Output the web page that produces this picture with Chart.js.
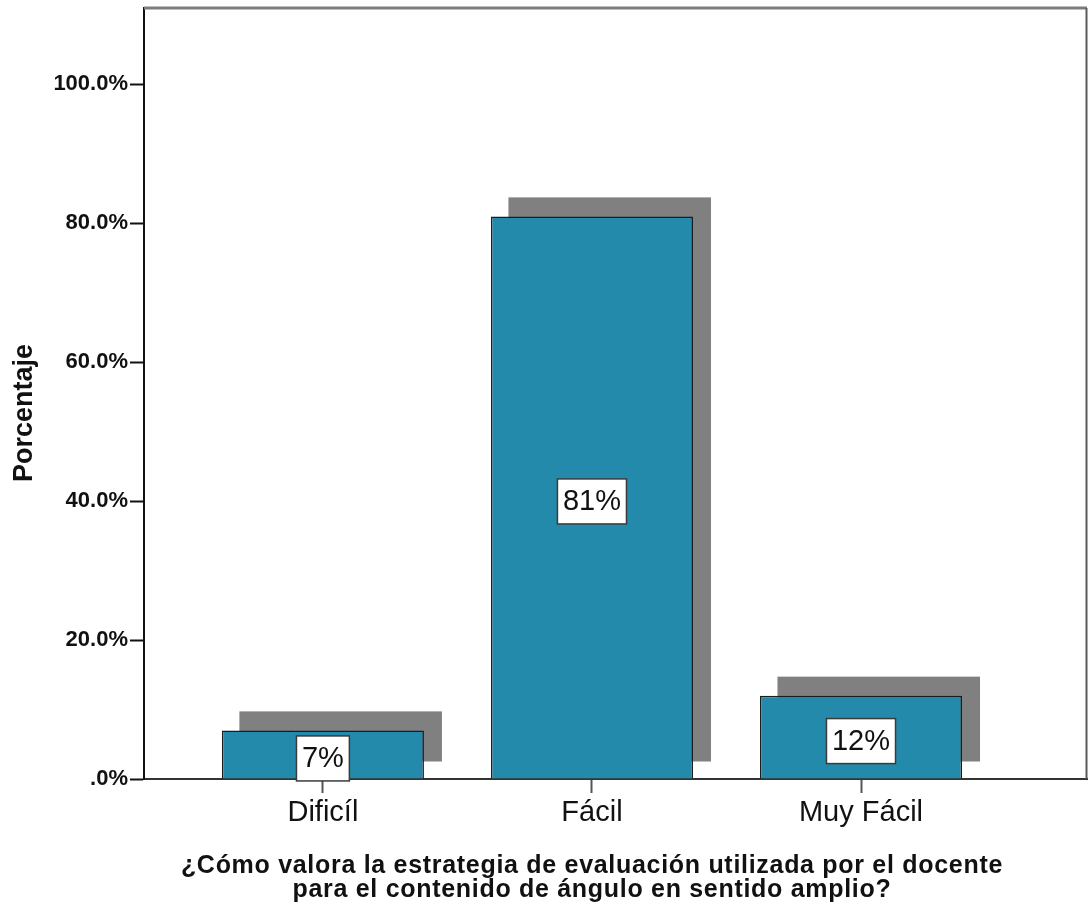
<!DOCTYPE html>
<html>
<head>
<meta charset="utf-8">
<script src="https://cdn.jsdelivr.net/npm/chart.js@4.4.1/dist/chart.umd.min.js"></script>
<style>
  html, body { margin: 0; padding: 0; background: #ffffff; }
  #wrap { width: 1089px; height: 907px; }
</style>
</head>
<body>
<div id="wrap"><canvas id="chart" width="1089" height="907"></canvas></div>
<script>
// Survey answers and their share of respondents (%)
const categories = ['Dificíl', 'Fácil', 'Muy Fácil'];
const percentages = [7, 81, 12];
const yTickValues = [0, 20, 40, 60, 80, 100];
const yTitle = 'Porcentaje';
const xTitleLines = [
  '¿Cómo valora la estrategia de evaluación utilizada por el docente',
  'para el contenido de ángulo en sentido amplio?'
];

const BAR_COLOR = 'rgb(36,138,172)';
const SHADOW_COLOR = '#808080';

function formatPercentTick(v) {
  const s = v.toFixed(1);
  return (s.startsWith('0') ? s.slice(1) : s) + '%';
}

// Gray drop shadow behind each bar, offset up and to the right
const barShadow = {
  id: 'barShadow',
  beforeDatasetsDraw(chart) {
    const ctx = chart.ctx;
    ctx.save();
    ctx.fillStyle = SHADOW_COLOR;
    chart.getDatasetMeta(0).data.forEach(bar => {
      const { x, y, base, width } = bar.getProps(['x', 'y', 'base', 'width'], true);
      const left = x - width / 2 + 17.5;
      const right = x + width / 2 + 18;
      const top = y - 19;
      const bottom = base - 17;
      ctx.fillRect(left, top, right - left, bottom - top);
    });
    ctx.restore();
  }
};

// Boxed value label in the middle of each bar
const valueBoxes = {
  id: 'valueBoxes',
  afterDatasetsDraw(chart) {
    const ctx = chart.ctx;
    const ds = chart.data.datasets[0];
    ctx.save();
    ctx.font = '29px "Liberation Sans", Arial, sans-serif';
    ctx.textAlign = 'center';
    ctx.textBaseline = 'middle';
    chart.getDatasetMeta(0).data.forEach((bar, i) => {
      const { x, y, base } = bar.getProps(['x', 'y', 'base'], true);
      const text = Math.round(ds.data[i].y) + '%';
      const w = ctx.measureText(text).width + 11;
      const h = 45;
      const cy = (y + base) / 2 + 4;
      ctx.fillStyle = '#ffffff';
      ctx.fillRect(x - w / 2, cy - h / 2, w, h);
      ctx.lineWidth = 1.5;
      ctx.strokeStyle = '#3a3a3a';
      ctx.strokeRect(x - w / 2, cy - h / 2, w, h);
      ctx.fillStyle = '#111111';
      ctx.fillText(text, x, cy + 1);
    });
    ctx.restore();
  }
};

// Frame lines on the top and right of the plot, plus the axis titles
const frameAndTitles = {
  id: 'frameAndTitles',
  afterDraw(chart) {
    const ctx = chart.ctx;
    const a = chart.chartArea;
    ctx.save();
    ctx.strokeStyle = '#7c7c7c';
    ctx.lineWidth = 3;
    ctx.beginPath();
    ctx.moveTo(a.left, a.top);
    ctx.lineTo(a.right, a.top);
    ctx.stroke();
    ctx.strokeStyle = '#5a5a5a';
    ctx.lineWidth = 2;
    ctx.beginPath();
    ctx.moveTo(a.right - 0.5, a.top);
    ctx.lineTo(a.right - 0.5, a.bottom);
    ctx.stroke();

    const xs = chart.scales.x;
    const cx = (xs.getPixelForValue(0) + xs.getPixelForValue(categories.length - 1)) / 2;
    ctx.fillStyle = '#111111';
    ctx.font = 'bold 25px "Liberation Sans", Arial, sans-serif';
    ctx.letterSpacing = '0.7px';
    ctx.textAlign = 'center';
    ctx.textBaseline = 'alphabetic';
    ctx.fillText(xTitleLines[0], cx, 873);
    ctx.fillText(xTitleLines[1], cx, 897);

    ctx.letterSpacing = '0px';
    ctx.font = 'bold 27px "Liberation Sans", Arial, sans-serif';
    ctx.translate(32, 413);
    ctx.rotate(-Math.PI / 2);
    ctx.fillText(yTitle, 0, 0);
    ctx.restore();
  }
};

new Chart(document.getElementById('chart'), {
  type: 'bar',
  data: {
    datasets: [{
      data: percentages.map((v, i) => ({ x: i, y: v })),
      backgroundColor: BAR_COLOR,
      borderColor: '#1c1c1c',
      borderWidth: 1.5,
      categoryPercentage: 1,
      barPercentage: 0.751
    }]
  },
  options: {
    responsive: false,
    animation: false,
    devicePixelRatio: 1,
    layout: { padding: { top: 8, right: 2, left: 0, bottom: 0 } },
    plugins: { legend: { display: false }, tooltip: { enabled: false } },
    scales: {
      x: {
        type: 'linear',
        min: -0.665,
        max: 2.84,
        offset: false,
        afterBuildTicks: s => { s.ticks = categories.map((_, i) => ({ value: i })); },
        afterFit: s => { s.height = 128; s.paddingLeft = 0; s.paddingRight = 0; },
        ticks: {
          callback: v => categories[v] ?? '',
          font: { family: '"Liberation Sans", Arial, sans-serif', size: 29 },
          color: '#111111',
          padding: 3,
          maxRotation: 0,
          autoSkip: false
        },
        grid: { drawOnChartArea: false, offset: false, tickLength: 14, tickColor: '#555555', tickWidth: 2 },
        border: { color: '#333333', width: 2 }
      },
      y: {
        min: 0,
        max: 111,
        afterBuildTicks: s => { s.ticks = yTickValues.map(v => ({ value: v })); },
        afterFit: s => { s.width = 144; s.paddingTop = 0; s.paddingBottom = 0; },
        ticks: {
          callback: v => formatPercentTick(v),
          font: { family: '"Liberation Sans", Arial, sans-serif', size: 22, weight: 'bold' },
          color: '#111111',
          padding: 2
        },
        grid: { drawOnChartArea: false, tickLength: 14, tickColor: '#111111', tickWidth: 2 },
        border: { color: '#111111', width: 2 }
      }
    }
  },
  plugins: [barShadow, valueBoxes, frameAndTitles]
});
</script>
</body>
</html>
